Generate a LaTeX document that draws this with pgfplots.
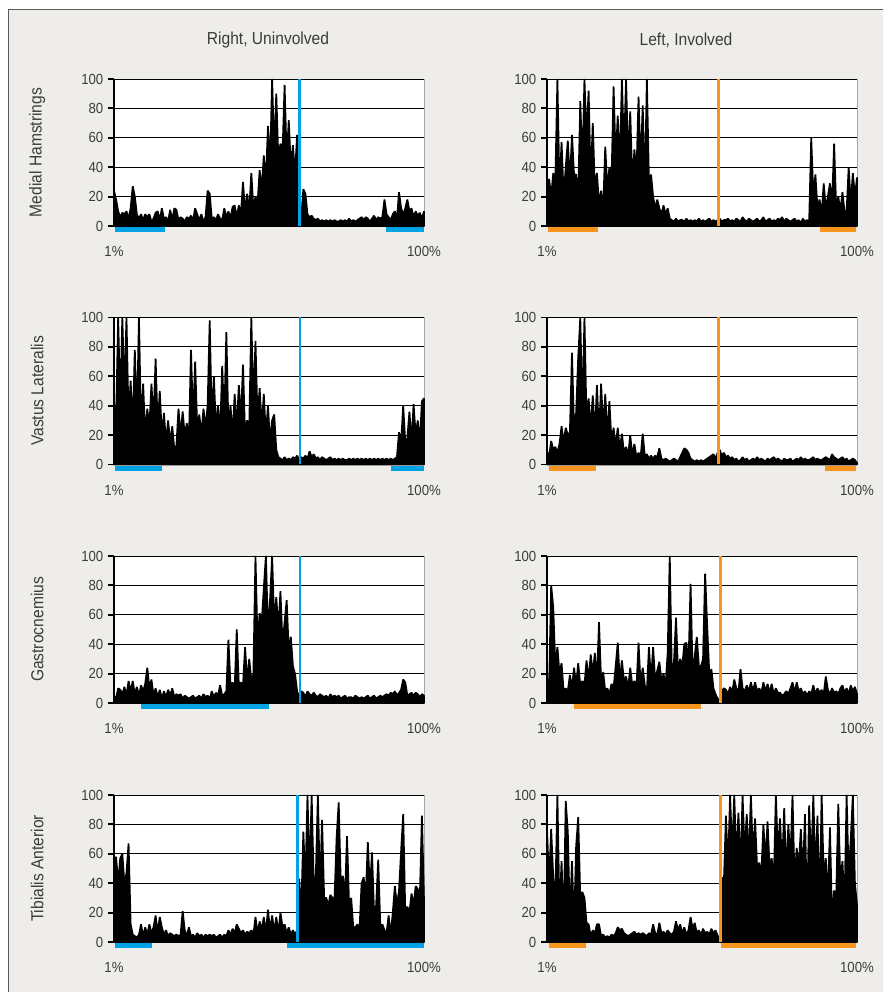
\documentclass[border=0pt]{standalone}
\usepackage{fontspec}
\setmainfont{Liberation Sans}[FakeStretch=0.9]
\usepackage{pgfplots}
\pgfplotsset{compat=1.18}
\definecolor{bg}{RGB}{238,237,233}
\definecolor{framec}{RGB}{90,90,90}
\definecolor{txt}{RGB}{60,60,60}
\definecolor{cblue}{RGB}{0,164,228}
\definecolor{corange}{RGB}{247,148,30}
\pgfplotsset{
  panel/.style={
    scale only axis, width=232.5pt, height=110.25pt,
    xmin=0, xmax=149, ymin=0, ymax=100, clip=false,
    axis background/.style={fill=white, draw=gray!70, line width=0.5pt},
    axis x line*=bottom, axis y line*=left,
    axis line style={black, line width=1.4pt, -},
    ytick={0,20,40,60,80,100},
    ytick align=outside,
    major tick length=4.5pt,
    ytick style={black, line width=1.4pt},
    ymajorgrids, grid style={black, line width=0.6pt},
    xtick={0,149}, xticklabels={1\%,100\%},
    xtick style={draw=none},
    /pgf/number format/assume math mode=true,
    tick label style={font=\fontsize{11}{13}\selectfont, text=txt},
    xticklabel style={yshift=-12pt},
    every axis y label/.style={at={(axis description cs:-0.248,0.5)}, rotate=90, anchor=center, font=\fontsize{13}{15}\selectfont, text=txt},
    anchor=south west,
  },
  emg/.style={draw=black, fill=black, line width=1.3pt, line join=bevel, no marks},
  vl/.style={line width=2.2pt, no marks},
  bar/.style={line width=3.75pt, no marks},
}
\begin{document}
\begin{tikzpicture}
\useasboundingbox (0,0) rectangle (662.25pt,744pt);
\clip (0,0) rectangle (662.25pt,744pt);
\fill[white] (0,0) rectangle (662.25pt,744pt);
\fill[bg] (6pt,-5pt) rectangle (670pt,736.5pt);
\draw[framec, line width=0.75pt] (6pt,-5pt) -- (6pt,736.5pt) -- (670pt,736.5pt);
\node[font=\fontsize{13}{15}\selectfont, text=txt] at (201pt,714pt) {Right, Uninvolved};
\node[font=\fontsize{13}{15}\selectfont, text=txt] at (514.5pt,714pt) {Left, Involved};

% Row 1 - Medial Hamstrings
\begin{axis}[panel, at={(85.5pt,574.5pt)}, ylabel={Medial Hamstrings}]
\addplot[emg] table[row sep=\\, header=false, x expr=\coordindex, y index=0] {
24\\18\\10\\6\\9\\8\\10\\5\\12\\27\\
20\\8\\5\\8\\4\\8\\6\\8\\3\\5\\
9\\10\\4\\12\\5\\6\\3\\11\\4\\12\\
11\\4\\6\\5\\3\\6\\5\\7\\4\\12\\
8\\4\\8\\3\\6\\24\\22\\5\\6\\4\\
8\\5\\4\\12\\6\\10\\5\\13\\14\\6\\
14\\8\\30\\10\\22\\10\\36\\12\\20\\15\\
38\\25\\48\\30\\68\\40\\100\\50\\90\\45\\
56\\50\\96\\45\\72\\40\\55\\35\\62\\20\\
6\\25\\22\\8\\6\\7\\5\\4\\5\\3\\
4\\3\\4\\3\\4\\3\\4\\3\\3\\4\\
3\\4\\3\\5\\3\\4\\3\\4\\5\\6\\
4\\6\\5\\3\\5\\7\\4\\6\\5\\6\\
18\\8\\6\\4\\8\\10\\5\\23\\12\\8\\
12\\18\\10\\12\\6\\10\\7\\9\\5\\10\\
} \closedcycle;
\addplot[vl, cblue] coordinates {(89.1,0) (89.1,100)};
\addplot[bar, cblue] coordinates {(0.5,-2.4) (24.6,-2.4)};
\addplot[bar, cblue] coordinates {(130.7,-2.4) (149,-2.4)};
\end{axis}

\begin{axis}[panel, at={(410.25pt,574.5pt)}]
\addplot[emg] table[row sep=\\, header=false, x expr=\coordindex, y index=0] {
2\\32\\20\\36\\30\\100\\25\\57\\20\\40\\
58\\30\\62\\35\\35\\20\\85\\40\\100\\60\\
92\\30\\70\\25\\36\\15\\24\\12\\54\\25\\
40\\30\\95\\45\\75\\40\\100\\50\\100\\45\\
78\\30\\52\\35\\88\\40\\82\\25\\100\\30\\
35\\20\\12\\18\\12\\8\\14\\8\\12\\5\\
4\\3\\5\\3\\4\\4\\3\\5\\3\\4\\
3\\4\\3\\5\\3\\4\\3\\4\\5\\3\\
4\\3\\4\\5\\3\\4\\4\\5\\3\\4\\
3\\5\\4\\3\\6\\4\\3\\5\\4\\3\\
4\\5\\3\\4\\6\\3\\4\\5\\3\\4\\
3\\5\\4\\6\\3\\5\\4\\3\\4\\5\\
3\\4\\2\\5\\3\\4\\3\\60\\20\\35\\
12\\18\\8\\29\\12\\20\\29\\15\\56\\12\\
20\\10\\23\\10\\10\\40\\15\\36\\20\\33\\
} \closedcycle;
\addplot[vl, corange] coordinates {(82.4,0) (82.4,100)};
\addplot[bar, corange] coordinates {(0.3,-2.4) (24.3,-2.4)};
\addplot[bar, corange] coordinates {(131.1,-2.4) (148.6,-2.4)};
\end{axis}

% Row 2 - Vastus Lateralis
\begin{axis}[panel, at={(85.5pt,395.625pt)}, ylabel={Vastus Lateralis}]
\addplot[emg] table[row sep=\\, header=false, x expr=\coordindex, y index=0] {
43\\30\\100\\40\\100\\50\\100\\30\\57\\25\\
78\\30\\100\\25\\55\\20\\38\\25\\55\\30\\
72\\25\\50\\20\\35\\15\\30\\15\\26\\10\\
13\\38\\20\\36\\20\\28\\15\\78\\30\\70\\
25\\34\\20\\38\\25\\40\\98\\30\\60\\25\\
40\\20\\67\\30\\90\\25\\40\\20\\48\\25\\
54\\30\\68\\20\\30\\25\\100\\40\\84\\30\\
52\\25\\48\\20\\40\\15\\30\\34\\10\\5\\
4\\3\\5\\3\\4\\3\\5\\4\\6\\3\\
5\\4\\6\\4\\9\\5\\7\\4\\5\\3\\
5\\4\\3\\4\\5\\3\\4\\3\\4\\3\\
4\\3\\3\\4\\3\\4\\3\\4\\3\\4\\
3\\4\\3\\4\\3\\4\\3\\4\\3\\4\\
3\\4\\3\\4\\3\\4\\5\\22\\15\\40\\
15\\18\\36\\15\\41\\20\\30\\15\\43\\45\\
} \closedcycle;
\addplot[vl, cblue] coordinates {(89.4,0) (89.4,100)};
\addplot[bar, cblue] coordinates {(0.5,-2.4) (22.9,-2.4)};
\addplot[bar, cblue] coordinates {(133.2,-2.4) (149,-2.4)};
\end{axis}

\begin{axis}[panel, at={(410.25pt,395.625pt)}]
\addplot[emg] table[row sep=\\, header=false, x expr=\coordindex, y index=0] {
9\\5\\16\\10\\12\\8\\14\\26\\15\\25\\
20\\22\\76\\25\\35\\73\\100\\35\\100\\30\\
45\\25\\47\\20\\54\\20\\55\\25\\48\\20\\
43\\15\\25\\12\\25\\10\\21\\8\\12\\6\\
20\\6\\14\\5\\8\\5\\21\\6\\7\\4\\
6\\4\\6\\5\\11\\4\\3\\4\\3\\2\\
3\\4\\3\\2\\5\\8\\11\\10\\8\\4\\
3\\2\\3\\2\\3\\2\\3\\4\\5\\6\\
7\\4\\8\\10\\6\\8\\5\\6\\4\\5\\
3\\4\\2\\3\\5\\3\\4\\2\\3\\4\\
3\\5\\3\\4\\3\\2\\4\\3\\4\\5\\
3\\4\\3\\2\\4\\3\\3\\4\\2\\3\\
4\\3\\5\\3\\4\\3\\3\\4\\5\\3\\
4\\3\\3\\4\\5\\4\\3\\7\\5\\4\\
3\\4\\5\\3\\4\\2\\3\\4\\3\\1\\
} \closedcycle;
\addplot[vl, corange] coordinates {(82.4,0) (82.4,100)};
\addplot[bar, corange] coordinates {(1,-2.4) (23.5,-2.4)};
\addplot[bar, corange] coordinates {(133.5,-2.4) (148.6,-2.4)};
\end{axis}

% Row 3 - Gastrocnemius
\begin{axis}[panel, at={(85.5pt,216.75pt)}, ylabel={Gastrocnemius}]
\addplot[emg] table[row sep=\\, header=false, x expr=\coordindex, y index=0] {
5\\3\\10\\9\\6\\11\\5\\15\\8\\15\\
6\\11\\5\\12\\8\\13\\24\\10\\16\\5\\
10\\4\\9\\3\\8\\4\\9\\5\\10\\4\\
6\\5\\6\\3\\5\\4\\3\\4\\5\\3\\
4\\5\\3\\6\\4\\5\\3\\8\\4\\7\\
5\\12\\5\\6\\8\\43\\12\\14\\10\\50\\
12\\14\\12\\38\\15\\30\\15\\20\\100\\40\\
61\\55\\78\\100\\50\\70\\100\\55\\72\\50\\
76\\40\\55\\70\\35\\45\\25\\20\\8\\4\\
8\\7\\4\\8\\6\\5\\7\\5\\4\\6\\
5\\4\\5\\3\\6\\4\\5\\4\\5\\3\\
4\\5\\3\\4\\4\\3\\5\\4\\3\\4\\
3\\4\\5\\3\\4\\5\\3\\4\\5\\4\\
5\\6\\5\\7\\6\\8\\5\\7\\9\\16\\
14\\5\\6\\7\\5\\7\\6\\4\\6\\5\\
} \closedcycle;
\addplot[vl, cblue] coordinates {(89.4,0) (89.4,100)};
\addplot[bar, cblue] coordinates {(13,-2.4) (74.5,-2.4)};
\end{axis}

\begin{axis}[panel, at={(410.25pt,216.75pt)}]
\addplot[emg] table[row sep=\\, header=false, x expr=\coordindex, y index=0] {
17\\10\\80\\65\\25\\38\\20\\27\\8\\10\\
8\\19\\10\\24\\12\\27\\12\\15\\12\\29\\
15\\33\\20\\34\\15\\55\\15\\21\\8\\10\\
6\\13\\10\\25\\41\\15\\29\\15\\18\\10\\
24\\12\\15\\10\\41\\12\\24\\12\\8\\38\\
15\\38\\15\\22\\28\\15\\20\\12\\34\\100\\
20\\27\\58\\20\\30\\25\\40\\41\\25\\81\\
20\\32\\45\\25\\25\\30\\88\\52\\20\\23\\
10\\6\\3\\2\\8\\10\\9\\6\\11\\7\\
16\\10\\7\\23\\10\\8\\12\\8\\14\\8\\
14\\8\\10\\7\\14\\8\\13\\7\\13\\6\\
10\\7\\7\\5\\6\\8\\6\\10\\14\\7\\
14\\8\\10\\6\\8\\5\\8\\6\\12\\6\\
10\\7\\9\\6\\18\\9\\6\\10\\7\\8\\
6\\10\\12\\7\\10\\6\\12\\8\\11\\6\\
} \closedcycle;
\addplot[vl, corange] coordinates {(83.2,0) (83.2,100)};
\addplot[bar, corange] coordinates {(12.8,-2.4) (73.9,-2.4)};
\end{axis}

% Row 4 - Tibialis Anterior
\begin{axis}[panel, at={(85.5pt,37.5pt)}, ylabel={Tibialis Anterior}]
\addplot[emg] table[row sep=\\, header=false, x expr=\coordindex, y index=0] {
25\\58\\40\\57\\60\\40\\47\\67\\12\\5\\
4\\3\\5\\12\\4\\10\\5\\12\\6\\10\\
18\\6\\17\\10\\5\\8\\4\\6\\5\\4\\
5\\4\\5\\21\\8\\4\\10\\4\\5\\3\\
6\\4\\5\\3\\5\\4\\5\\4\\5\\3\\
4\\5\\3\\5\\4\\8\\5\\9\\6\\12\\
9\\6\\8\\5\\7\\6\\8\\5\\17\\6\\
14\\8\\17\\6\\22\\8\\18\\7\\17\\6\\
20\\10\\12\\6\\10\\5\\8\\5\\8\\43\\
20\\75\\40\\100\\45\\100\\40\\45\\100\\35\\
83\\30\\30\\25\\32\\30\\30\\71\\95\\40\\
45\\30\\72\\25\\30\\10\\10\\12\\8\\40\\
44\\30\\68\\35\\61\\20\\25\\56\\10\\12\\
8\\6\\18\\5\\20\\38\\25\\35\\62\\87\\
20\\24\\20\\33\\25\\38\\36\\30\\86\\28\\
} \closedcycle;
\addplot[vl, cblue] coordinates {(88.3,0) (88.3,100)};
\addplot[bar, cblue] coordinates {(0.5,-2.4) (18.2,-2.4)};
\addplot[bar, cblue] coordinates {(83,-2.4) (149,-2.4)};
\end{axis}

\begin{axis}[panel, at={(410.25pt,37.5pt)}]
\addplot[emg] table[row sep=\\, header=false, x expr=\coordindex, y index=0] {
77\\40\\77\\44\\30\\100\\20\\55\\10\\96\\
75\\15\\55\\10\\65\\85\\30\\34\\30\\13\\
12\\4\\8\\6\\12\\12\\4\\5\\3\\4\\
3\\5\\4\\6\\10\\8\\9\\6\\5\\4\\
5\\6\\7\\5\\6\\5\\6\\5\\4\\6\\
5\\12\\6\\5\\13\\6\\7\\5\\8\\6\\
5\\7\\14\\8\\12\\6\\10\\5\\8\\17\\
9\\13\\6\\8\\5\\9\\6\\7\\5\\9\\
6\\8\\4\\2\\44\\40\\86\\50\\100\\60\\
100\\55\\88\\50\\100\\60\\87\\55\\100\\58\\
84\\50\\54\\45\\80\\55\\82\\50\\57\\40\\
100\\60\\84\\50\\91\\45\\80\\55\\100\\40\\
64\\50\\77\\45\\87\\15\\93\\50\\100\\45\\
86\\20\\100\\45\\57\\30\\78\\15\\35\\30\\
94\\40\\55\\25\\100\\45\\70\\100\\40\\25\\
} \closedcycle;
\addplot[vl, corange] coordinates {(83.6,0) (83.6,100)};
\addplot[bar, corange] coordinates {(1,-2.4) (18.6,-2.4)};
\addplot[bar, corange] coordinates {(83.4,-2.4) (148.6,-2.4)};
\end{axis}
\end{tikzpicture}
\end{document}
